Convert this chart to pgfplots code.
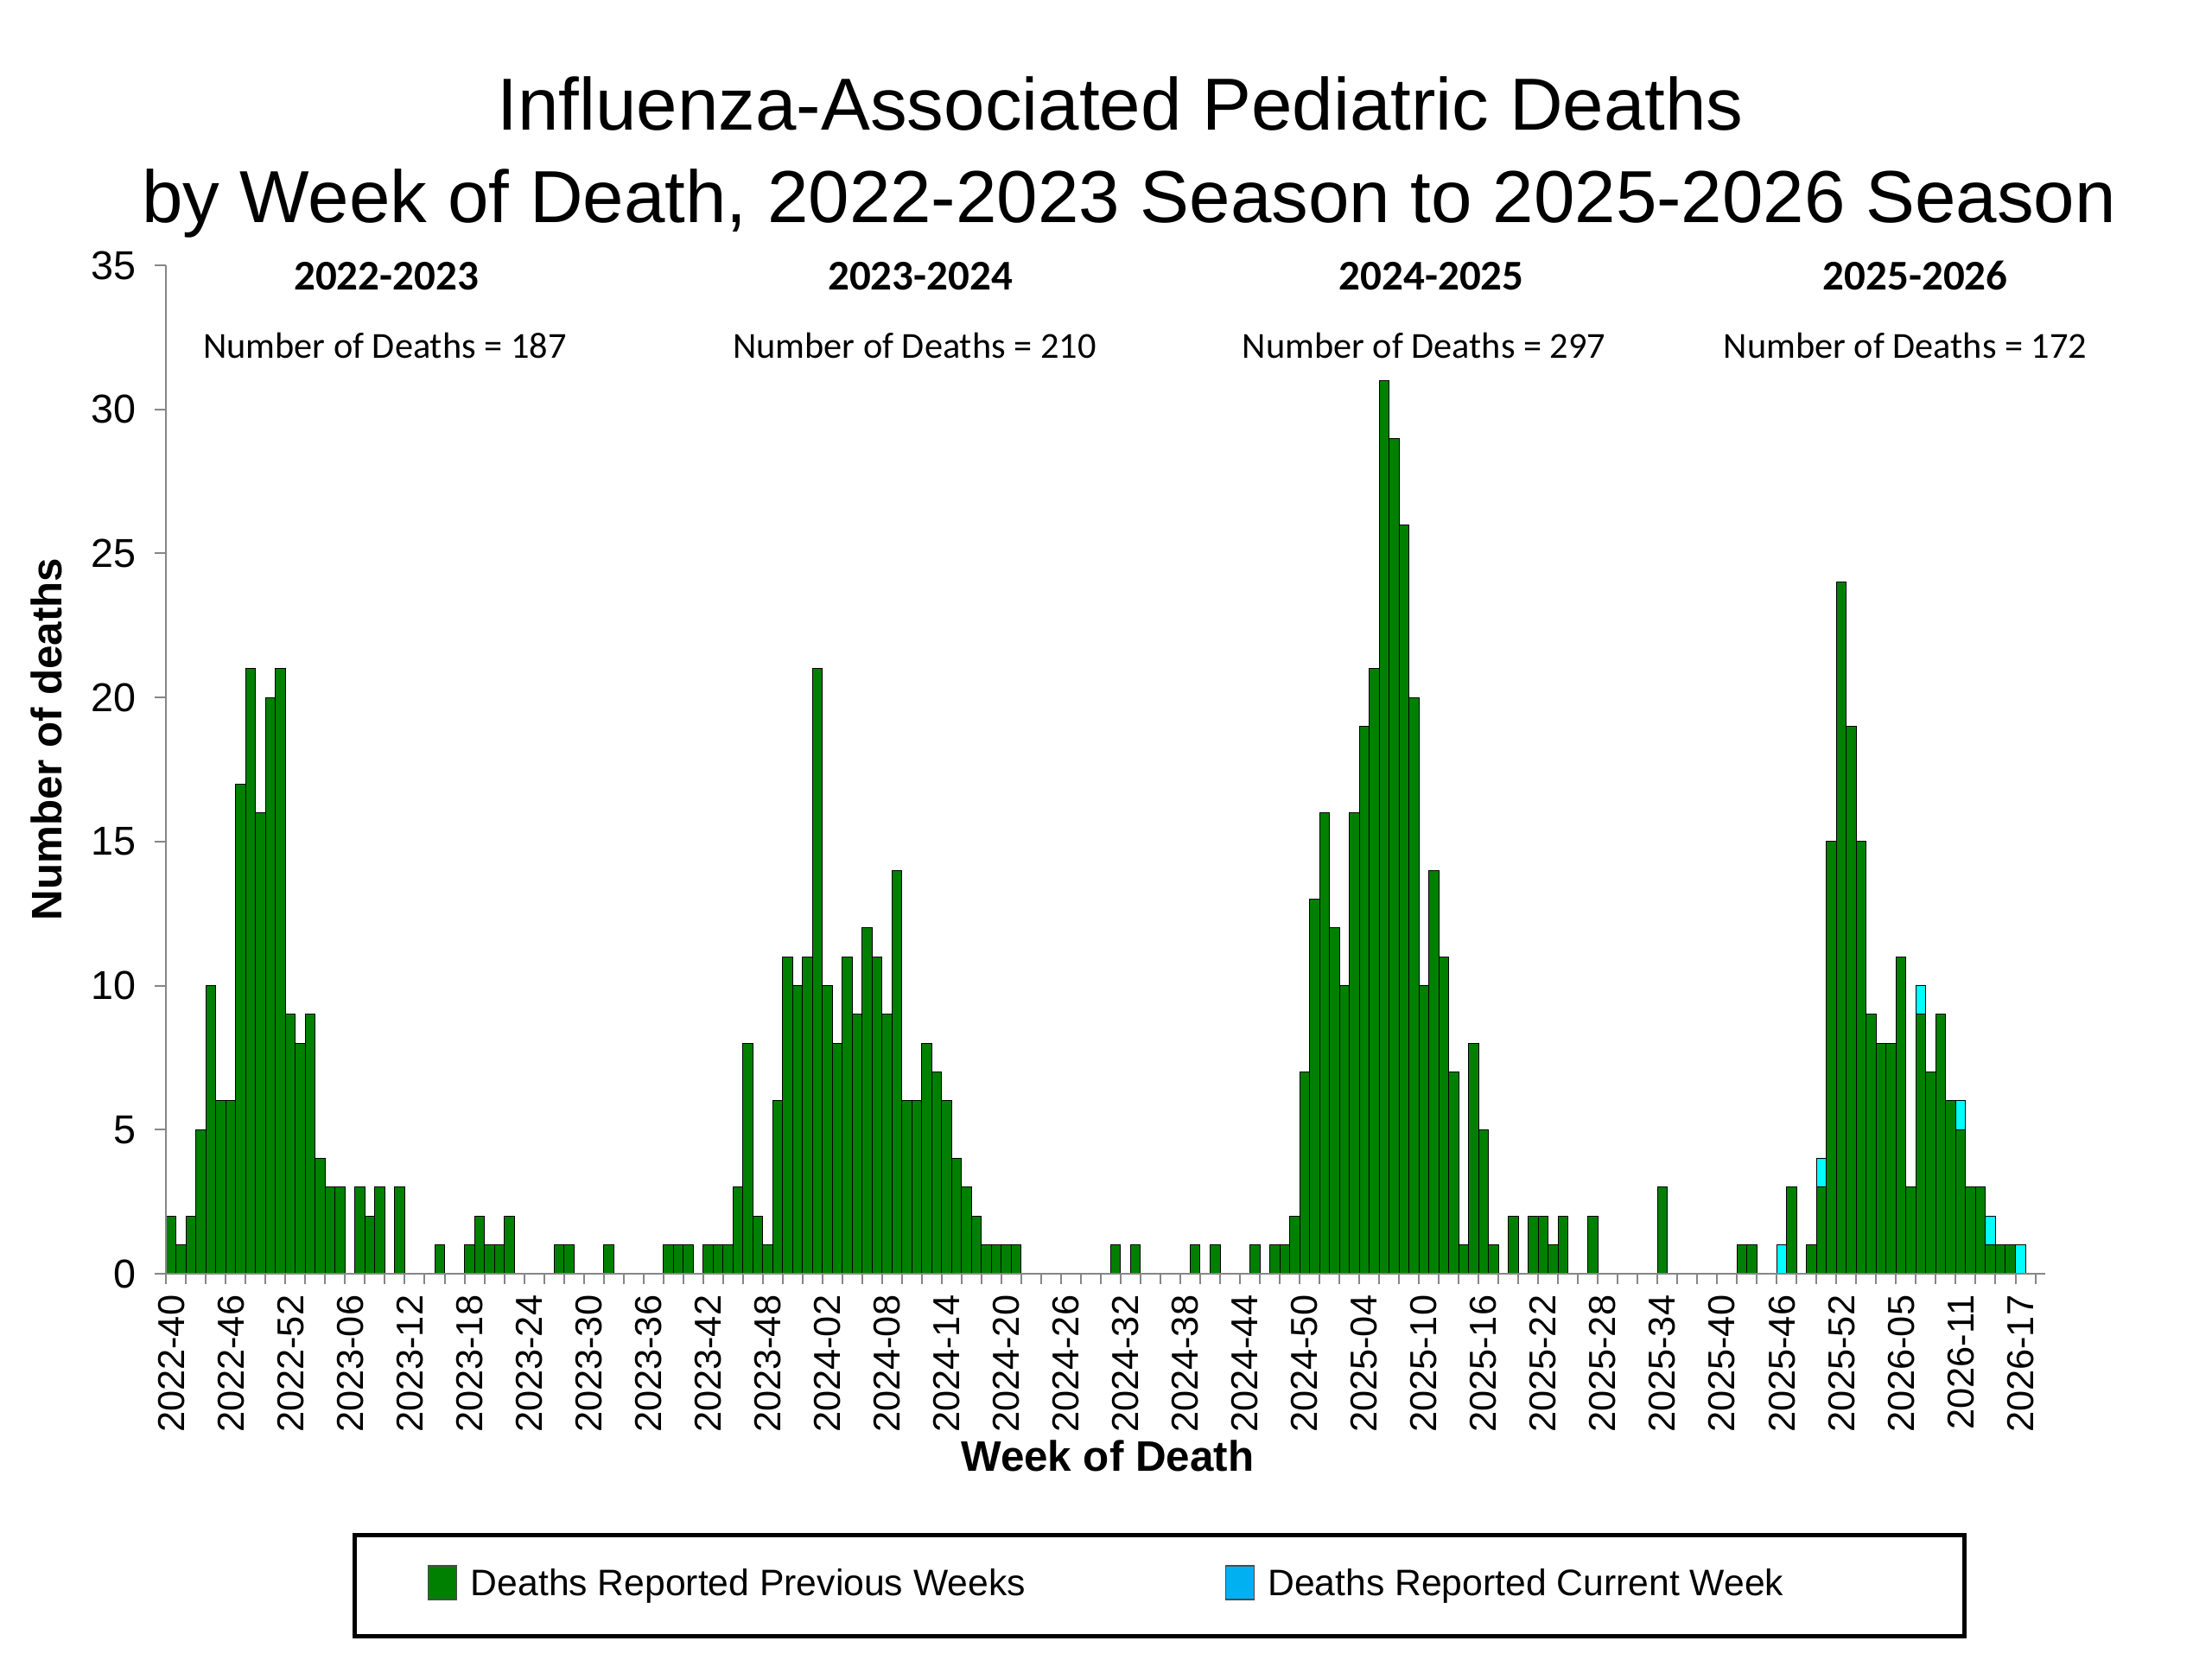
\documentclass[border=0pt]{standalone}
\usepackage{fontspec}
\setmainfont{Liberation Sans}
\newfontfamily\calibri{Carlito}
\usepackage{pgfplots}
\usepackage{pgfplotstable}
\pgfplotsset{compat=1.18}

\definecolor{prevgreen}{HTML}{008000}
\definecolor{curcyan}{HTML}{00FFFF}
\definecolor{legblue}{HTML}{00B0F0}
\definecolor{axisgray}{HTML}{868686}

% week index (0 = 2022-40), deaths reported previous weeks, deaths reported current week
\pgfplotstableread[row sep=\\]{
x g c\\
0 2 0\\ 1 1 0\\ 2 2 0\\ 3 5 0\\ 4 10 0\\ 5 6 0\\ 6 6 0\\ 7 17 0\\ 8 21 0\\ 9 16 0\\
10 20 0\\ 11 21 0\\ 12 9 0\\ 13 8 0\\ 14 9 0\\ 15 4 0\\ 16 3 0\\ 17 3 0\\ 18 0 0\\ 19 3 0\\
20 2 0\\ 21 3 0\\ 22 0 0\\ 23 3 0\\ 24 0 0\\ 25 0 0\\ 26 0 0\\ 27 1 0\\ 28 0 0\\ 29 0 0\\
30 1 0\\ 31 2 0\\ 32 1 0\\ 33 1 0\\ 34 2 0\\ 35 0 0\\ 36 0 0\\ 37 0 0\\ 38 0 0\\ 39 1 0\\
40 1 0\\ 41 0 0\\ 42 0 0\\ 43 0 0\\ 44 1 0\\ 45 0 0\\ 46 0 0\\ 47 0 0\\ 48 0 0\\ 49 0 0\\
50 1 0\\ 51 1 0\\ 52 1 0\\ 53 0 0\\ 54 1 0\\ 55 1 0\\ 56 1 0\\ 57 3 0\\ 58 8 0\\ 59 2 0\\
60 1 0\\ 61 6 0\\ 62 11 0\\ 63 10 0\\ 64 11 0\\ 65 21 0\\ 66 10 0\\ 67 8 0\\ 68 11 0\\ 69 9 0\\
70 12 0\\ 71 11 0\\ 72 9 0\\ 73 14 0\\ 74 6 0\\ 75 6 0\\ 76 8 0\\ 77 7 0\\ 78 6 0\\ 79 4 0\\
80 3 0\\ 81 2 0\\ 82 1 0\\ 83 1 0\\ 84 1 0\\ 85 1 0\\ 86 0 0\\ 87 0 0\\ 88 0 0\\ 89 0 0\\
90 0 0\\ 91 0 0\\ 92 0 0\\ 93 0 0\\ 94 0 0\\ 95 1 0\\ 96 0 0\\ 97 1 0\\ 98 0 0\\ 99 0 0\\
100 0 0\\ 101 0 0\\ 102 0 0\\ 103 1 0\\ 104 0 0\\ 105 1 0\\ 106 0 0\\ 107 0 0\\ 108 0 0\\ 109 1 0\\
110 0 0\\ 111 1 0\\ 112 1 0\\ 113 2 0\\ 114 7 0\\ 115 13 0\\ 116 16 0\\ 117 12 0\\ 118 10 0\\ 119 16 0\\
120 19 0\\ 121 21 0\\ 122 31 0\\ 123 29 0\\ 124 26 0\\ 125 20 0\\ 126 10 0\\ 127 14 0\\ 128 11 0\\ 129 7 0\\
130 1 0\\ 131 8 0\\ 132 5 0\\ 133 1 0\\ 134 0 0\\ 135 2 0\\ 136 0 0\\ 137 2 0\\ 138 2 0\\ 139 1 0\\
140 2 0\\ 141 0 0\\ 142 0 0\\ 143 2 0\\ 144 0 0\\ 145 0 0\\ 146 0 0\\ 147 0 0\\ 148 0 0\\ 149 0 0\\
150 3 0\\ 151 0 0\\ 152 0 0\\ 153 0 0\\ 154 0 0\\ 155 0 0\\ 156 0 0\\ 157 0 0\\ 158 1 0\\ 159 1 0\\
160 0 0\\ 161 0 0\\ 162 0 1\\ 163 3 0\\ 164 0 0\\ 165 1 0\\ 166 3 1\\ 167 15 0\\ 168 24 0\\ 169 19 0\\
170 15 0\\ 171 9 0\\ 172 8 0\\ 173 8 0\\ 174 11 0\\ 175 3 0\\ 176 9 1\\ 177 7 0\\ 178 9 0\\ 179 6 0\\
180 5 1\\ 181 3 0\\ 182 3 0\\ 183 1 1\\ 184 1 0\\ 185 1 0\\ 186 0 1\\
}\deaths

\begin{document}
\begin{tikzpicture}
\useasboundingbox (0,0) rectangle (768pt,576pt);
\begin{axis}[
  at={(57.7pt,133.8pt)}, anchor=south west,
  scale only axis, width=652.4pt, height=350.1pt,
  xmin=-0.5, xmax=188.5, ymin=0, ymax=35,
  enlargelimits=false,
  axis x line*=bottom, axis y line*=left,
  axis line style={draw=axisgray, line width=0.6pt, -},
  axis on top,
  ybar stacked, bar width=1,
  tick align=outside,
  ytick={0,5,...,35},
  xtick={0,6,...,186},
  xticklabels={2022-40,2022-46,2022-52,2023-06,2023-12,2023-18,2023-24,2023-30,
    2023-36,2023-42,2023-48,2024-02,2024-08,2024-14,2024-20,2024-26,2024-32,
    2024-38,2024-44,2024-50,2025-04,2025-10,2025-16,2025-22,2025-28,2025-34,
    2025-40,2025-46,2025-52,2026-05,2026-11,2026-17},
  minor xtick={-0.5,1.5,...,187.5},
  major tick length=3.9pt, minor tick length=3.6pt,
  every tick/.style={draw=axisgray, line width=0.6pt},
  major x tick style={draw=none},
  /pgf/number format/assume math mode=true,
  yticklabel style={font=\fontsize{14pt}{16pt}\selectfont},
  yticklabel shift=3pt,
  xticklabel style={rotate=90, anchor=east, font=\fontsize{13pt}{15pt}\selectfont},
  xlabel={Week of Death},
  xlabel style={at={(axis description cs:0.501,-0.1954)}, anchor=base,
    font=\bfseries\fontsize{14.8pt}{17pt}\selectfont},
  ylabel={Number of deaths},
  ylabel style={at={(axis description cs:-0.0636,0.530)}, anchor=center,
    font=\bfseries\fontsize{14.8pt}{17pt}\selectfont},
  legend columns=2,
  legend style={at={(axis description cs:0.1387,-0.3063)}, anchor=west,
    draw=none, fill=none, inner sep=0pt, nodes={inner sep=0pt, text depth=0pt},
    font=\fontsize{12.8pt}{15pt}\selectfont},
]
\addplot[fill=prevgreen, draw=black, line width=0.3pt, forget plot] table[x=x, y=g] {\deaths};
\addplot[fill=curcyan, draw=black, line width=0.3pt, forget plot] table[x=x, y=c] {\deaths};
\addlegendimage{legend image code/.code={\draw[fill=prevgreen, draw=black!70, line width=0.4pt] (0pt,-5.85pt) rectangle (9.9pt,5.85pt);}}
\addlegendentry{\hspace*{4.8pt}\makebox[261.9pt][l]{Deaths Reported Previous Weeks}}
\addlegendimage{legend image code/.code={\draw[fill=legblue, draw=black!70, line width=0.4pt] (0pt,-5.85pt) rectangle (9.9pt,5.85pt);}}
\addlegendentry{\hspace*{4.5pt}Deaths Reported Current Week}
\end{axis}

% legend frame
\draw[line width=1.5pt] (123pt,8.1pt) rectangle (681.9pt,43.2pt);

% title
\node[anchor=base, font=\fontsize{25.6pt}{30pt}\selectfont] at (389pt,530.7pt) {Influenza-Associated Pediatric Deaths};
\node[anchor=base, font=\fontsize{25.6pt}{30pt}\selectfont] at (392pt,498.6pt) {by Week of Death, 2022-2023 Season to 2025-2026 Season};

% season annotations
\foreach \cx/\nx/\season/\n in {134.1/133.6/2022-2023/187, 319.5/317.5/2023-2024/210,
    497.0/494.4/2024-2025/297, 665/661.5/2025-2026/172} {
  \node[anchor=base, font=\calibri\bfseries\fontsize{14.7pt}{17pt}\selectfont] at (\cx pt,475.2pt) {\season};
  \node[anchor=base, font=\calibri\fontsize{12.7pt}{15pt}\selectfont] at (\nx pt,451.5pt) {Number of Deaths = \n};
}
\end{tikzpicture}
\end{document}
